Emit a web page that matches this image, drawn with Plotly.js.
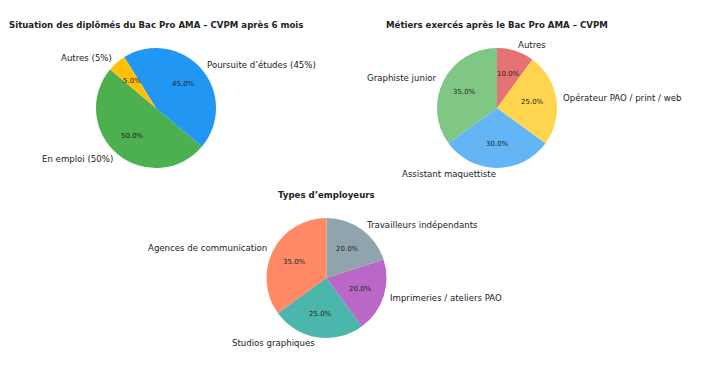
<!DOCTYPE html>
<html><head><meta charset="utf-8">
<script src="https://cdn.plot.ly/plotly-3.0.1.min.js"></script>
<style>html,body{margin:0;padding:0;background:#fff}</style>
</head><body>
<div id="chart" style="width:705px;height:369px"></div>
<script>
// Data
const title1 = "Situation des diplômés du Bac Pro AMA – CVPM après 6 mois";
const labels1 = ["En emploi (50%)", "Poursuite d’études (45%)", "Autres (5%)"];
const values1 = [50, 45, 5];
const colors1 = ["#4CAF50", "#2196F3", "#FFC107"];

const title2 = "Métiers exercés après le Bac Pro AMA – CVPM";
const labels2 = ["Graphiste junior", "Assistant maquettiste", "Opérateur PAO / print / web", "Autres"];
const values2 = [35, 30, 25, 10];
const colors2 = ["#81C784", "#64B5F6", "#FFD54F", "#E57373"];

const title3 = "Types d’employeurs";
const labels3 = ["Agences de communication", "Studios graphiques", "Imprimeries / ateliers PAO", "Travailleurs indépendants"];
const values3 = [35, 25, 20, 20];
const colors3 = ["#FF8A65", "#4DB6AC", "#BA68C8", "#90A4AE"];

// Layout geometry (pixels)
const W = 705, H = 369, R = 60;
const pies = [
  {title: title1, labels: labels1, values: values1, colors: colors1, cx: 156, cy: 108, start: 140},
  {title: title2, labels: labels2, values: values2, colors: colors2, cx: 497, cy: 108, start: 90},
  {title: title3, labels: labels3, values: values3, colors: colors3, cx: 326.5, cy: 278, start: 90}
];

const FONT = "DejaVu Sans, sans-serif";
const traces = [];
const annotations = [];
pies.forEach(p => {
  const total = p.values.reduce((a, b) => a + b, 0);
  // Plotly (counterclockwise): first slice lies clockwise of the rotation angle
  let rot = 90 - p.start - p.values[0] / total * 360;
  while (rot < -360) rot += 360;
  while (rot > 360) rot -= 360;
  traces.push({
    type: "pie", values: p.values, labels: p.labels, sort: false,
    direction: "counterclockwise", rotation: rot,
    marker: {colors: p.colors, line: {width: 0}},
    textinfo: "none", hoverinfo: "label+percent", showlegend: false,
    domain: {x: [(p.cx - R) / W, (p.cx + R) / W], y: [(H - p.cy - R) / H, (H - p.cy + R) / H]}
  });
  // title
  annotations.push({xref: "paper", yref: "paper", x: p.cx / W, y: (H - p.cy + R + 23) / H,
    text: "<b>" + p.title + "</b>", showarrow: false, xanchor: "center", yanchor: "middle",
    borderpad: 0, font: {family: FONT, size: 8.6, color: "#222"}});
  let ang = p.start;
  p.values.forEach((v, i) => {
    const span = v / total * 360;
    const mid = (ang + span / 2) * Math.PI / 180;
    ang += span;
    const lx = p.cx + Math.cos(mid) * R * 1.1, ly = p.cy - Math.sin(mid) * R * 1.1;
    annotations.push({xref: "paper", yref: "paper", x: lx / W, y: (H - ly) / H,
      text: p.labels[i], showarrow: false, xanchor: Math.cos(mid) > 0 ? "left" : "right",
      yanchor: "middle", borderpad: 0, font: {family: FONT, size: 8.6, color: "#222"}});
    const px = p.cx + Math.cos(mid) * R * 0.6, py = p.cy - Math.sin(mid) * R * 0.6;
    annotations.push({xref: "paper", yref: "paper", x: px / W, y: (H - py) / H,
      text: (v / total * 100).toFixed(1) + "%", showarrow: false, xanchor: "center",
      yanchor: "middle", borderpad: 0, font: {family: FONT, size: 7, color: "#222"}});
  });
});

Plotly.newPlot("chart", traces, {
  width: W, height: H, margin: {l: 0, r: 0, t: 0, b: 0},
  paper_bgcolor: "#fff", plot_bgcolor: "#fff", annotations: annotations,
  font: {family: FONT}
}, {displayModeBar: false, staticPlot: true});
</script>
</body></html>
